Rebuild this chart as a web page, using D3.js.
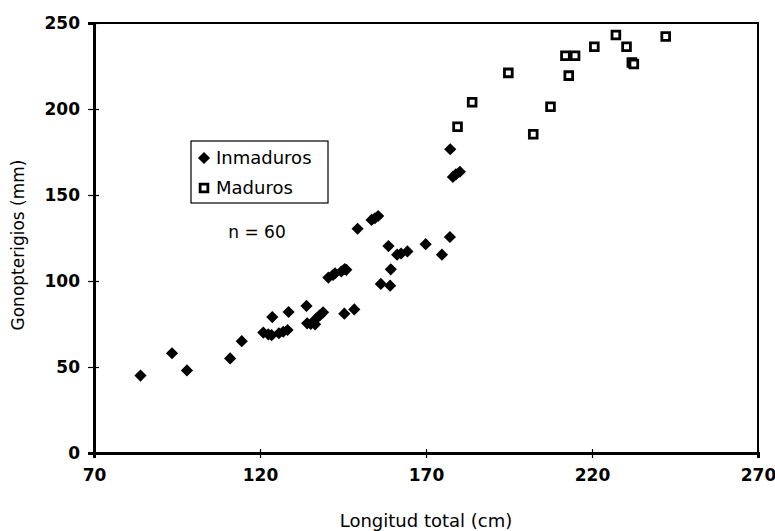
<!DOCTYPE html>
<html>
<head>
<meta charset="utf-8">
<script src="https://cdn.jsdelivr.net/npm/d3@7"></script>
<style>
  body { margin: 0; background: #fff; }
  text { font-family: "DejaVu Sans", sans-serif; fill: #000; }
</style>
</head>
<body>
<div id="chart"></div>
<script>
// inmaduros (rombos)
var inmLongitud = [84, 93.5, 98, 111, 114.5, 121, 122.5, 123.5, 125.7, 127, 128.3, 123.7, 128.6, 134, 134.2, 135.3,
  136.6, 137, 138, 139, 140.6, 142, 142.6, 144.5, 145.5, 146, 145.4, 148.4, 149.4, 153.6, 154.6, 155.6,
  158.7, 161.3, 162.5, 164.4, 159.4, 156.4, 159.2, 169.9, 174.8, 177.2, 177.3, 178.1, 179, 180.2];
var inmGonop = [45, 58, 48, 55, 65, 70, 69, 68.5, 69.6, 70.5, 71.5, 79, 82, 85.5, 75.4, 75,
  74.8, 78.3, 80, 81.8, 102, 103.5, 104.5, 105.5, 107, 106.5, 81, 83.5, 130.4, 135.5, 136.5, 137.8,
  120.3, 115.3, 116, 117.2, 106.8, 98.3, 97.3, 121.4, 115.3, 125.6, 176.6, 160.5, 162, 163.5];
// maduros (cuadrados)
var madLongitud = [179.5, 183.9, 194.8, 202.3, 207.5, 212, 214.9, 213, 220.7, 227.2, 230.4, 232, 232.6, 242.2];
var madGonop = [189.7, 203.9, 221, 185.3, 201.3, 231, 231, 219.4, 236.2, 243, 236.2, 227, 226.2, 242.2];

var xTicks = [70, 120, 170, 220, 270];
var yTicks = [0, 50, 100, 150, 200, 250];
var legendLabels = ["Inmaduros", "Maduros"];

var width = 775, height = 531;
var plotLeft = 94, plotRight = 758, plotTop = 23, plotBottom = 453;

var svg = d3.select('#chart').append('svg').attr('width', width).attr('height', height);

var x = d3.scaleLinear().domain([70, 270]).range([plotLeft, plotRight]);
var y = d3.scaleLinear().domain([0, 250]).range([plotBottom, plotTop]);

// marco
svg.append('rect').attr('x', plotLeft).attr('y', plotTop)
  .attr('width', plotRight - plotLeft).attr('height', plotBottom - plotTop)
  .attr('fill', 'none').attr('stroke', '#000').attr('stroke-width', 2);

var xAxis = svg.append('g').attr('transform', 'translate(0,' + plotBottom + ')')
  .call(d3.axisBottom(x).tickValues(xTicks).tickSize(5).tickPadding(11).tickFormat(d3.format('d')));
xAxis.selectAll('.tick line').attr('y1', -4).attr('stroke-width', 1.2);
xAxis.select('.domain').attr('stroke-width', 3);

var yAxis = svg.append('g').attr('transform', 'translate(' + plotLeft + ',0)')
  .call(d3.axisLeft(y).tickValues(yTicks).tickSize(6).tickPadding(8).tickFormat(d3.format('d')));
yAxis.selectAll('.tick line').attr('x1', 5).attr('stroke-width', 1.2);
yAxis.select('.domain').attr('stroke-width', 3);

svg.selectAll('.tick text').attr('font-family', '"DejaVu Sans", sans-serif')
  .attr('font-size', 17).attr('font-weight', 'bold').attr('fill', '#000');

// titulos
svg.append('text').attr('x', (plotLeft + plotRight) / 2).attr('y', 527)
  .attr('text-anchor', 'middle').attr('font-size', 18).text('Longitud total (cm)');
svg.append('text').attr('transform', 'translate(24,' + 245 + ') rotate(-90)')
  .attr('text-anchor', 'middle').attr('font-size', 17).text('Gonopterigios (mm)');

var diamond = d3.symbol().type(d3.symbolSquare).size(74);
var square = d3.symbol().type(d3.symbolSquare).size(60);

svg.append('g').selectAll('path').data(inmLongitud).enter().append('path')
  .attr('d', diamond)
  .attr('transform', function(d, i){
    return 'translate(' + x(d) + ',' + y(inmGonop[i]) + ') rotate(45)';
  })
  .attr('fill', '#000');

svg.append('g').selectAll('path').data(madLongitud).enter().append('path')
  .attr('d', square)
  .attr('transform', function(d, i){
    return 'translate(' + x(d) + ',' + y(madGonop[i]) + ')';
  })
  .attr('fill', '#fff').attr('stroke', '#000').attr('stroke-width', 2.8);

// leyenda
var legend = svg.append('g');
legend.append('rect').attr('x', 191).attr('y', 141).attr('width', 137).attr('height', 62)
  .attr('fill', '#fff').attr('stroke', '#000').attr('stroke-width', 1.2);
legend.append('path').attr('d', diamond).attr('transform', 'translate(204,158) rotate(45)').attr('fill', '#000');
legend.append('path').attr('d', square).attr('transform', 'translate(204,188)')
  .attr('fill', '#fff').attr('stroke', '#000').attr('stroke-width', 2.8);
legend.selectAll('text').data(legendLabels).enter().append('text')
  .attr('x', 216).attr('y', function(d, i){ return 164 + i * 30; })
  .attr('font-size', 18).text(function(d){ return d; });

svg.append('text').attr('x', 257).attr('y', 238).attr('text-anchor', 'middle')
  .attr('font-size', 17).text('n = 60');
</script>
</body>
</html>
